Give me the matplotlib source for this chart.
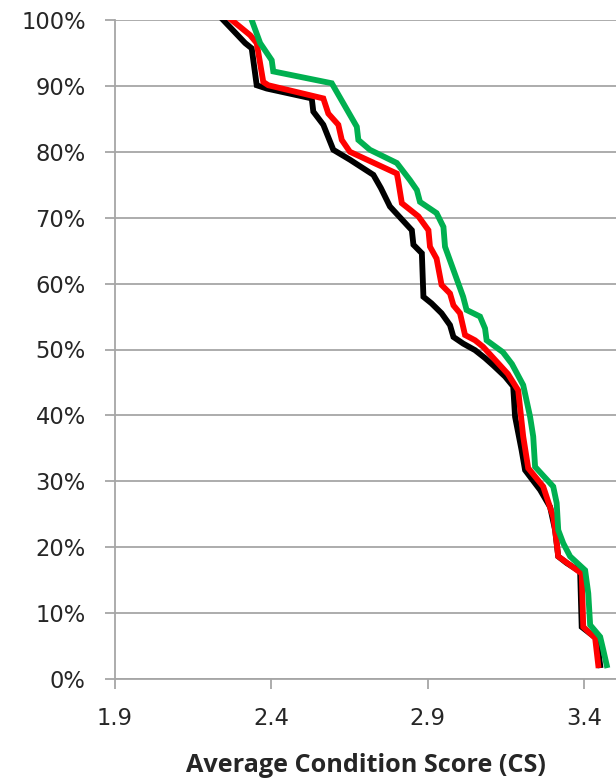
import matplotlib
matplotlib.use("Agg")
import matplotlib.pyplot as plt
from matplotlib.ticker import FuncFormatter

# Data (Average Condition Score vs cumulative percent)
black_cs = [2.246, 2.316, 2.337, 2.353, 2.385, 2.529, 2.534, 2.566, 2.598, 2.651, 2.726, 2.750,
            2.779, 2.849, 2.854, 2.881, 2.886, 2.912, 2.944, 2.971, 2.982, 3.013, 3.051, 3.083,
            3.109, 3.147, 3.173, 3.179, 3.200, 3.211, 3.259, 3.291, 3.307, 3.317, 3.344, 3.387,
            3.392, 3.419, 3.440, 3.451]
black_pct = [100, 96.5, 95.7, 90.1, 89.6, 88.1, 86.1, 84.1, 80.3, 78.8, 76.5, 74.5,
             71.7, 68.1, 65.9, 64.6, 58.0, 57.0, 55.5, 53.7, 51.9, 50.9, 49.9, 48.7,
             47.6, 45.9, 44.4, 39.8, 34.7, 31.7, 28.7, 26.1, 22.6, 18.6, 17.6, 16.3,
             7.9, 6.9, 6.2, 2.1]

red_cs = [2.273, 2.332, 2.353, 2.374, 2.390, 2.566, 2.582, 2.614, 2.625, 2.651, 2.801, 2.805,
          2.817, 2.870, 2.902, 2.907, 2.928, 2.944, 2.971, 2.982, 3.003, 3.019, 3.051, 3.077,
          3.156, 3.189, 3.205, 3.221, 3.269, 3.301, 3.307, 3.317, 3.392, 3.397, 3.435, 3.445]
red_pct = [100, 97.7, 96.5, 90.6, 90.1, 88.1, 85.8, 84.1, 81.8, 80.0, 76.7, 75.7,
           72.2, 70.2, 68.1, 65.6, 63.8, 59.8, 58.5, 56.7, 55.5, 52.2, 51.4, 50.4,
           46.3, 43.8, 36.8, 32.0, 29.2, 24.6, 22.6, 18.6, 16.0, 7.9, 6.2, 2.1]

green_cs = [2.337, 2.364, 2.401, 2.406, 2.593, 2.673, 2.678, 2.715, 2.801, 2.843, 2.865, 2.875,
            2.928, 2.950, 2.955, 3.013, 3.024, 3.067, 3.083, 3.088, 3.140, 3.169, 3.205, 3.227,
            3.237, 3.243, 3.301, 3.312, 3.317, 3.333, 3.355, 3.403, 3.413, 3.419, 3.451, 3.461,
            3.472]
green_pct = [100, 96.5, 93.9, 92.2, 90.4, 83.8, 81.8, 80.3, 78.3, 75.7, 74.2, 72.4,
             70.7, 68.6, 65.6, 58.0, 56.0, 55.0, 53.2, 51.4, 49.6, 47.8, 44.6, 39.8,
             36.8, 32.2, 29.2, 26.7, 22.6, 20.6, 18.6, 16.5, 13.0, 8.2, 6.4, 4.4,
             2.1]

x_ticks = [1.9, 2.4, 2.9, 3.4]
y_ticks = list(range(0, 101, 10))
x_label = "Average Condition Score (CS)"

fig = plt.figure(figsize=(6.16, 7.83), dpi=100)
ax = fig.add_axes([115 / 616, 104 / 783, 501 / 616, 659 / 783])

grid_col = "#a6a6a6"
for y in y_ticks:
    ax.axhline(y, color=grid_col, lw=1.3, zorder=1)

lw = 4.2
ax.plot(black_cs, black_pct, color="#000000", lw=lw, solid_joinstyle="miter", zorder=3)
ax.plot(red_cs, red_pct, color="#ff0000", lw=lw, solid_joinstyle="miter", zorder=4)
ax.plot(green_cs, green_pct, color="#00b050", lw=lw, solid_joinstyle="miter", zorder=5)

ax.set_xlim(1.9, 1.9 + 501 / 312.8)
ax.set_ylim(0, 100)
ax.set_xticks(x_ticks)
ax.set_xticklabels([f"{v:.1f}" for v in x_ticks])
ax.set_yticks(y_ticks)
ax.yaxis.set_major_formatter(FuncFormatter(lambda v, p: f"{int(round(v))}%"))

for s in ["top", "right"]:
    ax.spines[s].set_visible(False)
for s in ["left", "bottom"]:
    ax.spines[s].set_color(grid_col)
    ax.spines[s].set_linewidth(1.3)

ax.tick_params(axis="both", direction="out", length=7, width=1.3, color=grid_col,
               labelsize=16.3, labelcolor="#262626")
ax.tick_params(axis="x", pad=13)
ax.tick_params(axis="y", pad=14)

ax.set_xlabel(x_label, fontsize=18.2, fontweight="bold", family="Open Sans",
              color="#262626", labelpad=17)

fig.savefig("out.png", dpi=100)
